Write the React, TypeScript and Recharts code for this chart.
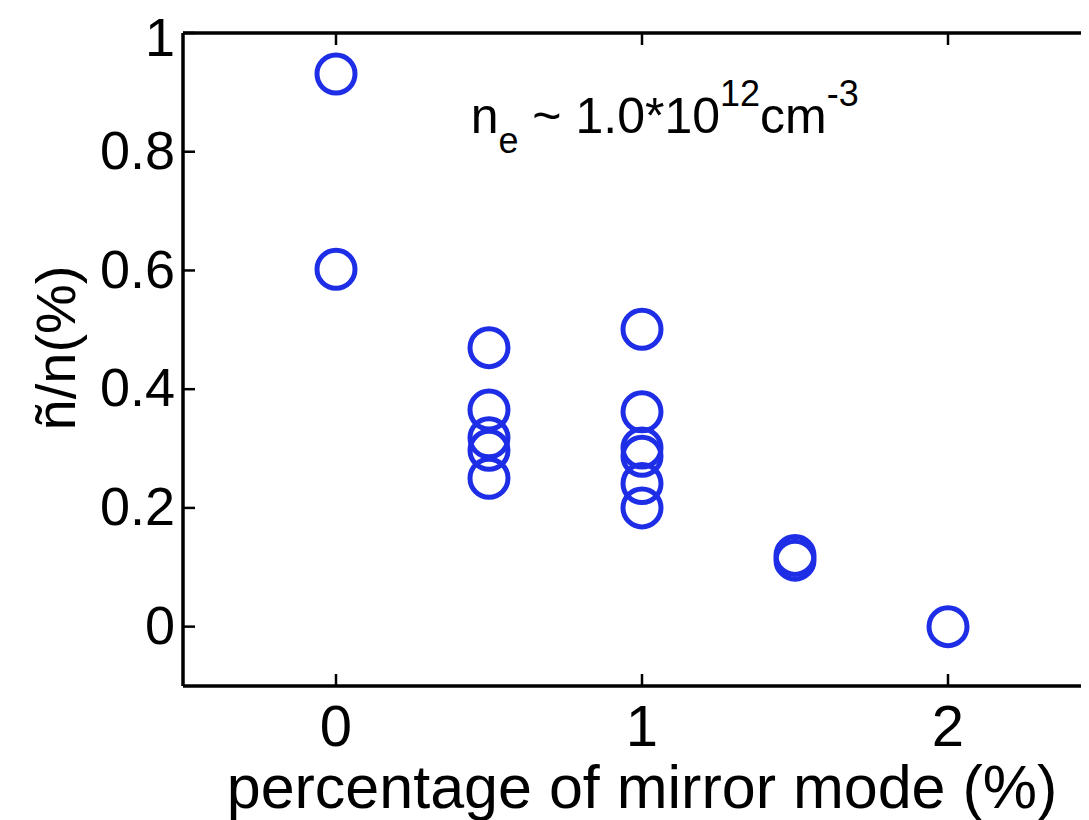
import React from "react";
import {
  ScatterChart,
  Scatter,
  XAxis,
  YAxis,
  ReferenceDot,
} from "recharts";

// data
const mirrorModePercent = [0, 0, 0.5, 0.5, 0.5, 0.5, 0.5, 1, 1, 1, 1, 1, 1, 1.5, 1.5, 2];
const fluctuationPercent = [
  0.931, 0.602, 0.47, 0.365, 0.318, 0.297, 0.25, 0.501, 0.362, 0.301, 0.287, 0.241, 0.2, 0.12,
  0.112, 0,
];
const xTicks = [0, 1, 2];
const yTicks = [0, 0.2, 0.4, 0.6, 0.8, 1];
const xDomain = [-0.5, 2.5];
const yDomain = [-0.1, 1];
const annotationAnchor = { x: 0.44, y: 0.832 };

const points = mirrorModePercent.map((x, i) => ({ x, y: fluctuationPercent[i] }));

const FONT = "'Liberation Sans', Arial, Helvetica, sans-serif";
const BLUE = "#1e2de6";

const Ring = (props: any) => (
  <circle cx={props.cx} cy={props.cy} r={19} fill="none" stroke={BLUE} strokeWidth={5} />
);

const NoLabel = () => <g />;

const YLabel = () => (
  <text
    x={67}
    y={340}
    transform="rotate(-90, 67, 340)"
    textAnchor="middle"
    fontSize={56}
    fontFamily={FONT}
    fill="#000"
  >
    ñ/n(%)
  </text>
);

const XLabel = (props: any) => {
  const vb = props.viewBox || {};
  const cx = (vb.x ?? 0) + (vb.width ?? 0) / 2;
  return (
    <text x={cx} y={800} textAnchor="middle" fontSize={61} fontFamily={FONT} fill="#000">
      percentage of mirror mode (%)
    </text>
  );
};

const Annotation = (props: any) => {
  const vb = props.viewBox || {};
  return (
    <text x={vb.x} y={vb.y} fontFamily={FONT} fontSize={50} fill="#000">
      <tspan>n</tspan>
      <tspan fontSize={36} dy={20}>e</tspan>
      <tspan dy={-20}> ~ 1.0*10</tspan>
      <tspan fontSize={36} dy={-27}>12</tspan>
      <tspan dy={27}>cm</tspan>
      <tspan fontSize={36} dy={-27}>-3</tspan>
    </text>
  );
};

const AXIS_LINE = { stroke: "#000", strokeWidth: 3.5 };
const TICK_LINE = { stroke: "#000", strokeWidth: 2.5 };

export default function App() {
  return (
    <div style={{ width: 1081, height: 812, overflow: "hidden", background: "#fff" }}>
      <ScatterChart width={1100} height={812} margin={{ top: 24, right: 6, bottom: 0, left: 55 }}>
        <XAxis
          xAxisId="bottom"
          dataKey="x"
          type="number"
          domain={xDomain}
          ticks={xTicks}
          allowDataOverflow
          height={134}
          axisLine={AXIS_LINE}
          tickLine={TICK_LINE}
          tickSize={-12}
          tickMargin={31}
          tick={{ fill: "#000", fontSize: 58, fontFamily: FONT }}
          label={{ content: XLabel }}
        />
        <XAxis
          xAxisId="top"
          orientation="top"
          dataKey="x"
          type="number"
          domain={xDomain}
          ticks={xTicks}
          allowDataOverflow
          height={1}
          axisLine={AXIS_LINE}
          tickLine={TICK_LINE}
          tickSize={-12}
          tick={NoLabel}
        />
        <YAxis
          yAxisId="left"
          dataKey="y"
          type="number"
          domain={yDomain}
          ticks={yTicks}
          allowDataOverflow
          width={120}
          axisLine={AXIS_LINE}
          tickLine={TICK_LINE}
          tickSize={-12}
          tickMargin={20}
          tick={{ fill: "#000", fontSize: 54, fontFamily: FONT, dy: -2 }}
          label={{ content: YLabel }}
        />
        <YAxis
          yAxisId="right"
          orientation="right"
          dataKey="y"
          type="number"
          domain={yDomain}
          ticks={yTicks}
          allowDataOverflow
          width={1}
          axisLine={AXIS_LINE}
          tickLine={TICK_LINE}
          tickSize={-12}
          tick={NoLabel}
        />
        <Scatter
          data={points}
          xAxisId="bottom"
          yAxisId="left"
          shape={Ring}
          isAnimationActive={false}
        />
        <ReferenceDot
          xAxisId="bottom"
          yAxisId="left"
          x={annotationAnchor.x}
          y={annotationAnchor.y}
          r={0}
          fill="none"
          stroke="none"
          label={{ content: Annotation }}
        />
      </ScatterChart>
    </div>
  );
}
